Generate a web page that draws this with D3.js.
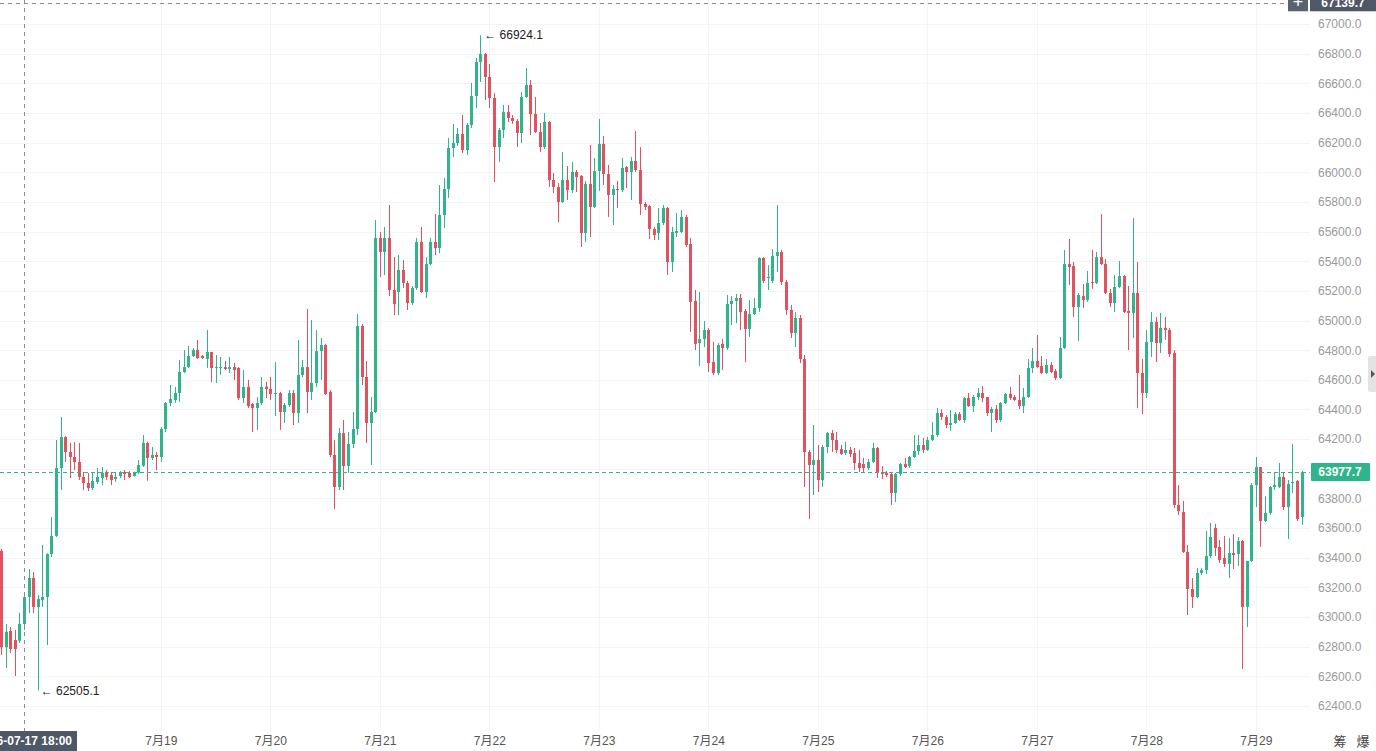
<!DOCTYPE html>
<html>
<head>
<meta charset="utf-8">
<script src="https://cdn.jsdelivr.net/npm/d3@7"></script>
<style>
  body { margin: 0; background: #fff; overflow: hidden; }
  svg { display: block; font-family: "Liberation Sans", Arial, "Noto Sans CJK SC", sans-serif; }
</style>
</head>
<body>
<svg id="chart" width="1376" height="751"></svg>
<script>
// hourly candles, first one at 07-17 13:00
const firstCandle = new Date(2026, 6, 17, 13);
const crossTime = new Date(2026, 6, 17, 18);
const crossPrice = 67139.7;
const lastPrice = 63977.7;
const highMark = 66924.1;
const lowMark = 62505.1;
const dayTicks = d3.timeDay.range(new Date(2026, 6, 19), new Date(2026, 6, 30));
const priceTicks = d3.range(62400, 67001, 200);

const opens = [
  63447, 62796, 62906, 62845, 62840, 62953, 63135, 63263, 63068, 63115, 63135, 63425,
  63547, 64005, 64214, 64113, 64079, 64046, 63945, 63904, 63870, 63911, 63938, 63978,
  63958, 63931, 63951, 63978, 63972, 63951, 63974, 64021, 64174, 64073, 64093, 64079,
  64268, 64444, 64464, 64511, 64653, 64686, 64761, 64801, 64761, 64740, 64788, 64680,
  64680, 64686, 64673, 64686, 64680, 64477, 64552, 64437, 64410, 64444, 64554, 64538,
  64504, 64511, 64383, 64430, 64511, 64376, 64633, 64686, 64518, 64579, 64794, 64835,
  64518, 64093, 63877, 64241, 64019, 64167, 64268, 64963, 64619, 64309, 64383, 65557,
  65462, 65557, 65206, 65192, 65341, 65253, 65118, 65219, 65530, 65192, 65381, 65530,
  65489, 65712, 65887, 66164, 66197, 66258, 66150, 66319, 66514, 66744, 66798, 66643,
  66501, 66170, 66285, 66406, 66366, 66346, 66265, 66508, 66589, 66393, 66272, 66170,
  66339, 65948, 65901, 65799, 65948, 65880, 66002, 65975, 65590, 65921, 65766, 66008,
  66191, 65988, 65847, 65887, 65880, 66035, 66002, 66076, 66015, 65786, 65772, 65617,
  65590, 65658, 65759, 65395, 65590, 65597, 65698, 65516, 65132, 64848, 64875, 64936,
  64720, 64646, 64842, 64815, 65111, 65132, 65152, 65064, 64943, 65044, 65084, 65422,
  65287, 65267, 65435, 65462, 65260, 65071, 64916, 65017, 64740, 64113, 64025, 64059,
  63924, 64147, 64241, 64194, 64133, 64106, 64127, 64106, 64039, 64032, 64005, 64046,
  64140, 63978, 63972, 63965, 63837, 63965, 64032, 64019, 64079, 64120, 64160, 64127,
  64194, 64228, 64376, 64349, 64295, 64309, 64369, 64329, 64477, 64423, 64484, 64511,
  64484, 64376, 64403, 64329, 64444, 64504, 64484, 64464, 64423, 64484, 64680, 64727,
  64693, 64646, 64700, 64660, 64612, 64815, 65381, 65368, 65091, 65165, 65138, 65260,
  65253, 65428, 65381, 65186, 65118, 65226, 65300, 65064, 65051, 65186, 64646, 64511,
  64855, 64990, 64848, 64950, 64936, 64781, 63756, 63708, 63439, 63189, 63135, 63297,
  63317, 63412, 63601, 63473, 63398, 63358, 63432, 63425, 63513, 63068, 63378, 63891,
  64012, 63648, 63702, 63877, 63877, 63945, 63742, 63904, 63918, 63675
];
const highs = [
  63459, 62953, 62933, 62913, 63029, 63162, 63324, 63304, 63149, 63486, 63430, 63675,
  64194, 64349, 64220, 64174, 64180, 64174, 63978, 63971, 63978, 64005, 64012, 63992,
  63978, 63972, 63985, 63992, 63985, 63980, 64059, 64228, 64183, 64147, 64113, 64282,
  64450, 64565, 64552, 64734, 64801, 64828, 64815, 64869, 64767, 64936, 64788, 64767,
  64754, 64727, 64754, 64713, 64686, 64666, 64599, 64444, 64484, 64619, 64587, 64619,
  64720, 64518, 64444, 64531, 64531, 64869, 64734, 65078, 65003, 64936, 64882, 64842,
  64531, 64194, 64275, 64329, 64248, 64383, 65044, 64976, 64727, 64484, 65678, 65597,
  65631, 65779, 65428, 65442, 65408, 65267, 65233, 65557, 65631, 65428, 65557, 65718,
  65914, 65961, 66231, 66326, 66299, 66386, 66332, 66602, 66771, 66924.1, 66804, 66730,
  66535, 66299, 66454, 66454, 66386, 66359, 66541, 66703, 66622, 66508, 66332, 66400,
  66346, 65995, 65928, 66137, 66042, 66069, 66015, 65982, 65941, 66184, 66096, 66359,
  66245, 66049, 65914, 65941, 66096, 66042, 66103, 66278, 66170, 65799, 65779, 65631,
  65759, 65779, 65766, 65631, 65725, 65745, 65712, 65557, 65206, 65192, 64997, 64949,
  64855, 64848, 64875, 65172, 65165, 65179, 65179, 65078, 65138, 65152, 65428, 65428,
  65374, 65482, 65779, 65476, 65273, 65105, 65057, 65037, 64767, 64127, 64295, 64160,
  64160, 64248, 64262, 64248, 64160, 64181, 64147, 64140, 64127, 64073, 64066, 64174,
  64147, 64019, 63985, 63972, 63972, 64039, 64073, 64086, 64228, 64228, 64208, 64215,
  64315, 64410, 64403, 64363, 64396, 64383, 64383, 64484, 64511, 64498, 64545, 64558,
  64484, 64417, 64430, 64450, 64511, 64552, 64498, 64633, 64545, 64740, 64815, 64902,
  64761, 64740, 64720, 64673, 64889, 65476, 65550, 65395, 65186, 65246, 65334, 65476,
  65462, 65718, 65415, 65213, 65307, 65401, 65307, 65233, 65691, 65395, 64740, 64936,
  65057, 65024, 65051, 65024, 64949, 64801, 63890, 63783, 63486, 63263, 63331, 63331,
  63580, 63634, 63628, 63520, 63547, 63533, 63560, 63540, 63520, 63378, 63904, 64079,
  64012, 63816, 63884, 63978, 64039, 63978, 63924, 64167, 63924, 63985
];
const lows = [
  62744, 62656, 62757, 62602, 62825, 62913, 63027, 63027, 62505.1, 63068, 62811, 63405,
  63540, 63857, 64046, 63938, 63992, 63924, 63857, 63850, 63857, 63897, 63890, 63924,
  63890, 63911, 63938, 63924, 63938, 63947, 63965, 64012, 63920, 64059, 63992, 64046,
  64248, 64423, 64444, 64450, 64646, 64680, 64754, 64740, 64740, 64680, 64585, 64579,
  64633, 64666, 64646, 64599, 64464, 64444, 64410, 64248, 64262, 64430, 64477, 64464,
  64356, 64262, 64309, 64417, 64295, 64309, 64619, 64376, 64464, 64552, 64599, 64498,
  64079, 63729, 63857, 63857, 63972, 64140, 64228, 64565, 64174, 64025, 64376, 65294,
  65307, 65165, 65037, 65037, 65219, 65071, 65105, 65206, 65186, 65152, 65374, 65442,
  65455, 65624, 65826, 66103, 66177, 66130, 66116, 66299, 66433, 66609, 66487, 66433,
  65934, 66069, 66231, 66339, 66326, 66170, 66197, 66501, 66251, 66265, 66137, 66157,
  65901, 65860, 65664, 65793, 65813, 65860, 65867, 65496, 65530, 65563, 65759, 65874,
  65914, 65698, 65644, 65759, 65867, 65894, 65813, 66002, 65712, 65745, 65550, 65543,
  65543, 65644, 65307, 65327, 65563, 65590, 65496, 64923, 64801, 64693, 64821, 64653,
  64633, 64633, 64666, 64801, 64970, 64983, 64936, 64720, 64889, 65037, 65057, 65253,
  65206, 65253, 65327, 65240, 65037, 64882, 64821, 64713, 63877, 63661, 63823, 63843,
  63877, 64106, 64113, 64106, 64093, 64093, 64079, 63992, 63978, 63978, 63992, 64039,
  63938, 63931, 63945, 63756, 63776, 63951, 64005, 64005, 64073, 64093, 64106, 64120,
  64187, 64214, 64329, 64275, 64255, 64302, 64322, 64309, 64417, 64383, 64464, 64450,
  64356, 64248, 64309, 64315, 64437, 64464, 64457, 64403, 64376, 64477, 64646, 64680,
  64639, 64639, 64646, 64599, 64606, 64808, 65240, 65024, 64862, 65084, 65125, 65213,
  65246, 65374, 65179, 65091, 65057, 65219, 65051, 64801, 64882, 64410, 64369, 64477,
  64754, 64720, 64781, 64869, 64754, 63735, 63688, 63432, 63014, 63061, 63128, 63284,
  63290, 63398, 63412, 63365, 63338, 63263, 63324, 63344, 62650, 62933, 63371, 63742,
  63473, 63641, 63688, 63857, 63870, 63722, 63526, 63837, 63648, 63621
];
const closes = [
  62796, 62901, 62784, 62784, 62953, 63135, 63263, 63068, 63122, 63135, 63425, 63547,
  64005, 64214, 64113, 64079, 64046, 63945, 63904, 63870, 63918, 63945, 63972, 63945,
  63924, 63945, 63972, 63965, 63945, 63974, 64025, 64174, 64073, 64093, 64079, 64268,
  64444, 64471, 64511, 64653, 64686, 64761, 64801, 64747, 64747, 64788, 64680, 64686,
  64686, 64673, 64686, 64666, 64477, 64552, 64423, 64410, 64444, 64552, 64538, 64504,
  64511, 64383, 64430, 64511, 64376, 64633, 64686, 64518, 64579, 64794, 64835, 64504,
  64093, 63877, 64241, 64019, 64167, 64268, 64963, 64619, 64309, 64383, 65557, 65462,
  65557, 65206, 65111, 65341, 65253, 65118, 65219, 65530, 65192, 65381, 65530, 65489,
  65712, 65887, 66164, 66197, 66258, 66150, 66319, 66514, 66744, 66798, 66643, 66501,
  66170, 66285, 66406, 66366, 66346, 66265, 66508, 66589, 66393, 66272, 66170, 66339,
  65948, 65901, 65799, 65948, 65880, 66002, 65968, 65590, 65921, 65766, 66008, 66191,
  65988, 65847, 65887, 65880, 66029, 66002, 66076, 66015, 65786, 65766, 65617, 65577,
  65658, 65759, 65395, 65597, 65604, 65698, 65509, 65125, 64842, 64875, 64936, 64713,
  64646, 64835, 64815, 65111, 65132, 65152, 65057, 64943, 65044, 65084, 65422, 65267,
  65294, 65435, 65462, 65260, 65071, 64916, 65017, 64740, 64113, 64025, 64059, 63924,
  64147, 64241, 64194, 64127, 64100, 64127, 64100, 64039, 64005, 64005, 64046, 64140,
  63972, 63965, 63958, 63837, 63965, 64032, 64012, 64079, 64120, 64160, 64127, 64194,
  64228, 64376, 64349, 64295, 64309, 64369, 64329, 64477, 64423, 64484, 64511, 64477,
  64376, 64403, 64329, 64444, 64504, 64477, 64464, 64423, 64484, 64680, 64727, 64686,
  64646, 64700, 64653, 64612, 64815, 65381, 65361, 65091, 65172, 65138, 65253, 65253,
  65428, 65381, 65186, 65118, 65226, 65300, 65057, 65051, 65186, 64646, 64511, 64855,
  64990, 64848, 64950, 64936, 64774, 63756, 63715, 63439, 63189, 63135, 63297, 63317,
  63412, 63540, 63466, 63385, 63358, 63432, 63418, 63513, 63068, 63378, 63891, 64012,
  63648, 63702, 63877, 63891, 63945, 63742, 63897, 63911, 63661, 63977.7
];

const width = 1376, height = 751;
const plotRight = 1310, plotBottom = 731;
const up = "#2fb58c", down = "#e3505e";

const candles = opens.map((o, i) => ({
  t: d3.timeHour.offset(firstCandle, i),
  o, h: highs[i], l: lows[i], c: closes[i]
}));

// one hour = 4.5625px, crosshair hour sits at x=24
const x = d3.scaleTime()
  .domain([crossTime, d3.timeHour.offset(crossTime, 288)])
  .range([24, 24 + 288 * 4.5625]);

const y = d3.scaleLinear()
  .domain([62400, 67000])
  .range([706, 24]);

const svg = d3.select("#chart");

// faint grid
const grid = svg.append("g");
grid.selectAll("line.h")
  .data(priceTicks)
  .join("line")
  .attr("x1", 0).attr("x2", plotRight)
  .attr("y1", d => Math.round(y(d)) + 0.5).attr("y2", d => Math.round(y(d)) + 0.5)
  .attr("stroke", "#f4f4f4");
grid.selectAll("line.v")
  .data(dayTicks)
  .join("line")
  .attr("x1", d => Math.round(x(d)) + 0.5).attr("x2", d => Math.round(x(d)) + 0.5)
  .attr("y1", 0).attr("y2", plotBottom)
  .attr("stroke", "#f4f4f4");

// candles
const plot = svg.append("g");
const cg = plot.selectAll("g")
  .data(candles)
  .join("g")
  .attr("fill", d => d.c >= d.o ? up : down)
  .attr("stroke", d => d.c >= d.o ? up : down);

cg.append("line")
  .attr("x1", d => Math.round(x(d.t)) + 0.5)
  .attr("x2", d => Math.round(x(d.t)) + 0.5)
  .attr("y1", d => y(d.h))
  .attr("y2", d => y(d.l))
  .attr("stroke-width", 1);

cg.append("rect")
  .attr("x", d => Math.round(x(d.t)) - 1)
  .attr("width", 3)
  .attr("y", d => y(Math.max(d.o, d.c)))
  .attr("height", d => Math.max(1, Math.abs(y(d.o) - y(d.c))))
  .attr("stroke", "none");

// current price line
svg.append("line")
  .attr("x1", 0).attr("x2", plotRight)
  .attr("y1", Math.round(y(lastPrice)) + 0.5).attr("y2", Math.round(y(lastPrice)) + 0.5)
  .attr("stroke", up).attr("stroke-dasharray", "4,3");

// crosshair
svg.append("line")
  .attr("x1", Math.round(x(crossTime)) + 0.5).attr("x2", Math.round(x(crossTime)) + 0.5)
  .attr("y1", 0).attr("y2", plotBottom)
  .attr("stroke", "#8a8a8a").attr("stroke-dasharray", "4,4");
svg.append("line")
  .attr("x1", 0).attr("x2", 1288)
  .attr("y1", Math.round(y(crossPrice)) + 0.5).attr("y2", Math.round(y(crossPrice)) + 0.5)
  .attr("stroke", "#8a8a8a").attr("stroke-dasharray", "4,4");

// high / low marks
const hi = candles.find(d => d.h === highMark);
const lo = candles.find(d => d.l === lowMark);
svg.append("text")
  .attr("x", x(hi.t) + 4).attr("y", y(highMark)).attr("dy", "0.35em")
  .attr("font-size", 12).attr("fill", "#222")
  .text("← " + d3.format(".1f")(highMark));
svg.append("text")
  .attr("x", x(lo.t) + 3).attr("y", y(lowMark)).attr("dy", "0.35em")
  .attr("font-size", 12).attr("fill", "#222")
  .text("← " + d3.format(".1f")(lowMark));

// y axis (the tick hidden under the last price label is left out)
const visibleTicks = priceTicks.filter(d => Math.abs(y(d) - y(lastPrice)) > 10);
const yAxis = svg.append("g")
  .attr("transform", `translate(${plotRight},0)`)
  .call(d3.axisRight(y).tickValues(visibleTicks).tickFormat(d3.format(".1f")).tickSize(0).tickPadding(8));
yAxis.select(".domain").remove();
yAxis.selectAll("text").attr("fill", "#9a9a9a").attr("font-size", 12)
  .attr("font-family", "\"Liberation Sans\", Arial, sans-serif");

// x axis
const xAxis = svg.append("g")
  .attr("transform", `translate(0,${plotBottom})`)
  .call(d3.axisBottom(x).tickValues(dayTicks).tickFormat(d => `7月${d.getDate()}`).tickSize(0).tickPadding(5));
xAxis.select(".domain").remove();
xAxis.selectAll("text").attr("fill", "#555").attr("font-size", 12)
  .attr("font-family", "\"Liberation Sans\", \"Noto Sans CJK SC\", sans-serif");

// current price label
const ly = y(lastPrice);
svg.append("rect").attr("x", plotRight + 1).attr("y", ly - 9).attr("width", 59).attr("height", 18)
  .attr("fill", up).attr("rx", 1);
svg.append("text").attr("x", plotRight + 30).attr("y", ly).attr("dy", "0.36em")
  .attr("text-anchor", "middle").attr("fill", "#fff").attr("font-size", 12).attr("font-weight", "bold")
  .text(d3.format(".1f")(lastPrice));

// crosshair price label and plus button
const cy = y(crossPrice);
svg.append("rect").attr("x", 1288).attr("y", cy - 12).attr("width", 20).attr("height", 20).attr("fill", "#5a6372");
svg.append("text").attr("x", 1298).attr("y", cy + 5).attr("text-anchor", "middle")
  .attr("fill", "#fff").attr("font-size", 18).text("+");
svg.append("rect").attr("x", plotRight).attr("y", cy - 12).attr("width", 66).attr("height", 20).attr("fill", "#4f5866");
svg.append("text").attr("x", plotRight + 33).attr("y", cy + 4).attr("text-anchor", "middle")
  .attr("fill", "#fff").attr("font-size", 12).attr("font-weight", "bold")
  .text(d3.format(".1f")(crossPrice));

// crosshair time label
svg.append("rect").attr("x", -30).attr("y", plotBottom).attr("width", 107).attr("height", 20).attr("fill", "#4f5866");
svg.append("text").attr("x", 72).attr("y", plotBottom + 14).attr("text-anchor", "end")
  .attr("fill", "#fff").attr("font-size", 12).attr("font-weight", "bold")
  .text(d3.timeFormat("%Y-%m-%d %H:%M")(crossTime));

// right side tab
svg.append("rect").attr("x", 1368).attr("y", 356).attr("width", 10).attr("height", 36).attr("rx", 2).attr("fill", "#e3e3e3");
svg.append("path").attr("d", "M1371,370 L1375,374 L1371,378 Z").attr("fill", "#555");

// bottom right buttons
svg.append("text").attr("x", 1340).attr("y", 746).attr("text-anchor", "middle")
  .attr("font-size", 13).attr("fill", "#444").attr("font-family", "\"Noto Sans CJK SC\", sans-serif").text("筹");
svg.append("text").attr("x", 1363).attr("y", 746).attr("text-anchor", "middle")
  .attr("font-size", 13).attr("fill", "#444").attr("font-family", "\"Noto Sans CJK SC\", sans-serif").text("爆");
</script>
</body>
</html>
